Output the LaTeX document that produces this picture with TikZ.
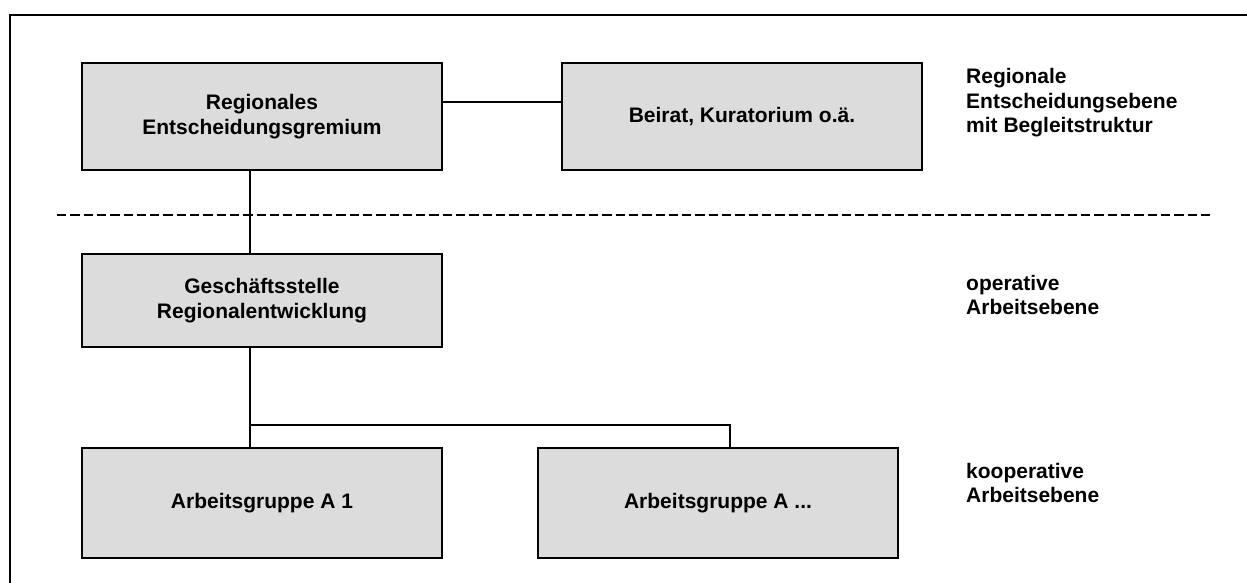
\documentclass[tikz,border=0pt]{standalone}
\usepackage{fontspec}
\setmainfont{Liberation Sans}
\definecolor{boxgray}{RGB}{220,220,220}
\begin{document}
\begin{tikzpicture}[x=1pt,y=-1pt,
  txt/.style={font=\bfseries\fontsize{21}{24.5}\selectfont},
  unit/.style={txt, draw=black, line width=1.6pt, fill=boxgray,
    minimum width=360pt, align=center, inner sep=0pt},
  lvl/.style={txt, anchor=west, align=left, inner sep=0pt},
  link/.style={line width=1.3pt},
  divider/.style={line width=1.5pt, dash pattern=on 9.3pt off 4pt}]
\useasboundingbox (0,0) rectangle (1247,583);

% outer frame (top and left edges)
\coordinate (fr) at (1247,15);
\coordinate (fc) at (10,15);
\coordinate (fb) at (10,583);
\draw[line width=2pt] (fr) -- (fc) -- (fb);

% level divider
\coordinate (dl) at (57,215);
\coordinate (dr) at (1212,215);
\draw[divider] (dl) -- (dr);

% organisational units
\node[unit, minimum height=107pt] (reg) at (262,116.5) {Regionales\\Entscheidungsgremium};
\node[unit, minimum height=107pt] (beirat) at (742,116.5) {Beirat, Kuratorium o.ä.};
\node[unit, minimum height=93pt] (gs) at (262,300.5) {Geschäftsstelle\\Regionalentwicklung};
\node[unit, minimum height=110pt] (ag1) at (262,503) {Arbeitsgruppe A 1};
\node[unit, minimum height=110pt] (agn) at (718,503) {Arbeitsgruppe A ...};

% level labels
\node[lvl] (l1) at (966,103) {Regionale\\Entscheidungsebene\\mit Begleitstruktur};
\node[lvl] (l2) at (966,295) {operative\\Arbeitsebene};
\node[lvl] (l3) at (966,483) {kooperative\\Arbeitsebene};

% connectors
\draw[link] ([yshift=14.5pt]reg.east) -- ([yshift=14.5pt]beirat.west);
\draw[link] ([xshift=-12pt]reg.south) -- ([xshift=-12pt]gs.north);
\draw[link] ([xshift=-12pt]gs.south) -- ([xshift=-12pt]ag1.north);
\coordinate (fork) at (250,425);
\draw[link] (fork) -| ([xshift=12pt]agn.north);
\end{tikzpicture}
\end{document}
